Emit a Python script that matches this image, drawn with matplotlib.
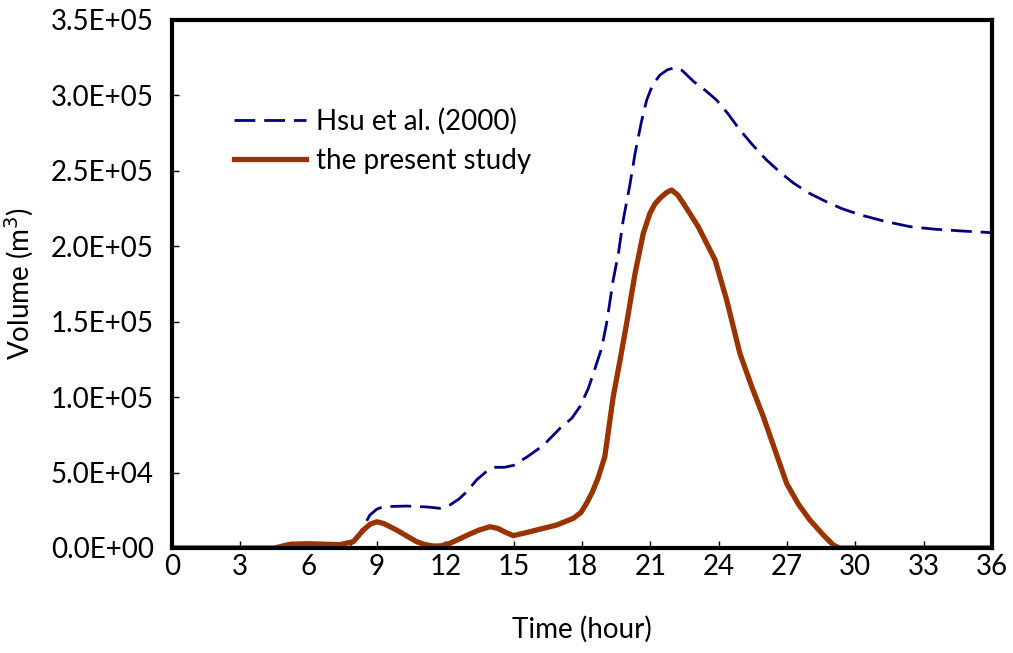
import numpy as np
import matplotlib.pyplot as plt
from matplotlib.ticker import FuncFormatter, MultipleLocator

# Hsu et al. (2000) volume curve
hsu_t = [0, 4, 5, 6, 7, 7.8, 8.25, 8.69, 9.0, 9.28, 10.3, 11.2, 11.76, 12.2, 12.6,
         12.94, 13.37, 13.9, 14.2, 14.6, 15.0, 15.6, 16.3, 17.03, 17.55, 17.91,
         18.28, 18.5, 18.86, 19.08, 19.37, 19.6, 19.81, 20.1, 20.33, 20.6, 20.84,
         21.1, 21.42, 21.75, 22.08, 22.4, 22.9, 23.4, 23.9, 24.4, 24.93, 25.5, 26.1,
         26.7, 27.3, 28.0, 28.7, 29.4, 30.2, 31.3, 32.4, 33.5, 34.6, 36]
hsu_v = [0, 0, 1000, 1000, 1000, 1500, 9700, 21900, 25800, 27400, 27800, 27200,
         26300, 28500, 32500, 37300, 45100, 52000, 53500, 53500, 54800, 60500,
         68000, 79300, 86000, 93700, 105900, 115800, 132400, 149000, 177700, 195400,
         217500, 240600, 261600, 282000, 297000, 307000, 313500, 317000, 318400,
         316500, 309200, 303500, 297000, 288000, 277100, 267000, 257200, 249000,
         241700, 235000, 229700, 225000, 220900, 216500, 213000, 211300, 210200, 209000]

# present study volume curve
cur_t = [0, 4.5, 5.2, 6, 7.37, 7.96, 8.4, 8.7, 8.99, 9.3, 9.86, 10.3, 10.74, 11.1,
         11.47, 11.8, 12.2, 12.6, 13.08, 13.5, 13.96, 14.3, 14.6, 14.98, 15.5, 16.0,
         16.88, 17.62, 17.95, 18.2, 18.45, 18.7, 19.0, 19.37, 19.67, 19.96, 20.33,
         20.69, 20.98, 21.2, 21.42, 21.7, 21.93, 22.2, 22.45, 23.1, 23.84, 24.35,
         24.93, 25.45, 25.96, 26.47, 26.98, 27.5, 28.0, 28.6, 29.03, 29.3, 36]
cur_v = [0, 0, 2500, 2800, 2200, 4200, 11900, 15800, 17400, 16200, 11900, 8000,
         4200, 2300, 1300, 1400, 3100, 5900, 9300, 12000, 14100, 13000, 10700, 8200,
         10000, 11900, 15200, 19700, 23500, 29600, 37000, 46200, 60500, 100300,
         124600, 149000, 182100, 208600, 221800, 228000, 231800, 235500, 237300,
         234000, 228500, 213000, 191000, 164400, 129000, 107000, 87000, 65000, 42900,
         29000, 18600, 8500, 2000, 0, 0]

plt.rcParams['font.family'] = ['Lato', 'DejaVu Sans']

fig = plt.figure(figsize=(10.13, 6.53), dpi=100)
ax = fig.add_axes([0.1698, 0.1608, 0.8095, 0.8086])

ax.plot(hsu_t, hsu_v, color='#000080', lw=2, dashes=(7.5, 3.2), label='Hsu et al. (2000)')
ax.plot(cur_t, cur_v, color='#993300', lw=3.8, label='the present study',
        solid_joinstyle='round')

ax.set_xlim(0, 36)
ax.set_ylim(0, 3.5e5)
ax.xaxis.set_major_locator(MultipleLocator(3))
ax.yaxis.set_major_locator(MultipleLocator(0.5e5))
ax.yaxis.set_major_formatter(FuncFormatter(lambda v, p: f"{v:.1E}"))
ax.tick_params(direction='in', length=5, width=1, labelsize=20)
ax.tick_params(axis='x', pad=4)
ax.tick_params(axis='y', pad=13)
for s in ax.spines.values():
    s.set_linewidth(3)

ax.set_xlabel('Time (hour)', fontsize=20, labelpad=26)
ax.set_ylabel('Volume (m$^3$)', fontsize=20, labelpad=11)

ax.legend(loc='upper left', bbox_to_anchor=(0.045, 0.88), frameon=False, fontsize=20,
          handlelength=2.6, handletextpad=0.35, labelspacing=0.45)

fig.savefig('out.png', dpi=100)
